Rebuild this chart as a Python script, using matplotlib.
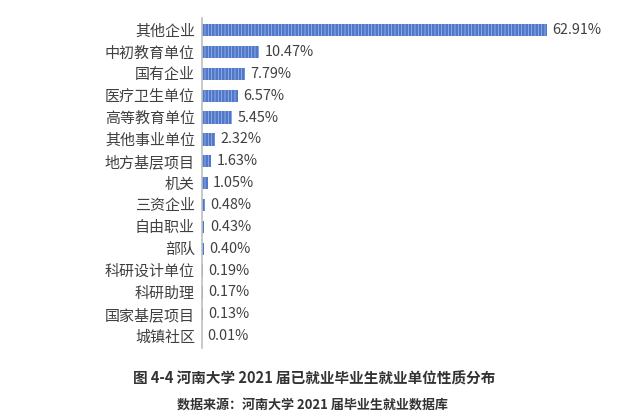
import matplotlib
matplotlib.use("Agg")
import matplotlib.pyplot as plt

plt.rcParams['font.family'] = ['Noto Sans CJK SC', 'DejaVu Sans']
plt.rcParams['hatch.linewidth'] = 0.5

categories = ["其他企业", "中初教育单位", "国有企业", "医疗卫生单位", "高等教育单位",
              "其他事业单位", "地方基层项目", "机关", "三资企业", "自由职业",
              "部队", "科研设计单位", "科研助理", "国家基层项目", "城镇社区"]
values = [62.91, 10.47, 7.79, 6.57, 5.45, 2.32, 1.63, 1.05, 0.48, 0.43,
          0.40, 0.19, 0.17, 0.13, 0.01]
title = "图 4-4 河南大学 2021 届已就业毕业生就业单位性质分布"
source = "数据来源：河南大学 2021 届毕业生就业数据库"

fig = plt.figure(figsize=(6.41, 4.12), dpi=100)
ax = fig.add_axes([0.315, 0.155, 0.599, 0.801])
y = list(range(len(categories)))
ax.barh(y, values, height=0.56, color='#4f78cb', edgecolor='#a8bde6',
        linewidth=0, hatch='|||||')
for yi, v in zip(y, values):
    ax.text(v + 1.0, yi, f"{v:.2f}%", va='center', ha='left',
            fontsize=10.4, color='#404040')
ax.set_xlim(0, 70)
ax.set_ylim(14.55, -0.55)
ax.set_yticks(y)
ax.set_yticklabels(categories, fontsize=10.8, color='#404040')
ax.tick_params(axis='y', length=0, pad=5)
ax.set_xticks([])
for s in ['top', 'right', 'bottom']:
    ax.spines[s].set_visible(False)
ax.spines['left'].set_color('#bfbfbf')
ax.spines['left'].set_linewidth(1.2)

fig.text(0.490, 0.082, title, ha='center', va='center', fontsize=10.5,
         fontweight='bold', color='#333333')
fig.text(0.487, 0.017, source, ha='center', va='center', fontsize=9.4,
         fontweight='bold', color='#333333')
fig.savefig("out.png", dpi=100)
